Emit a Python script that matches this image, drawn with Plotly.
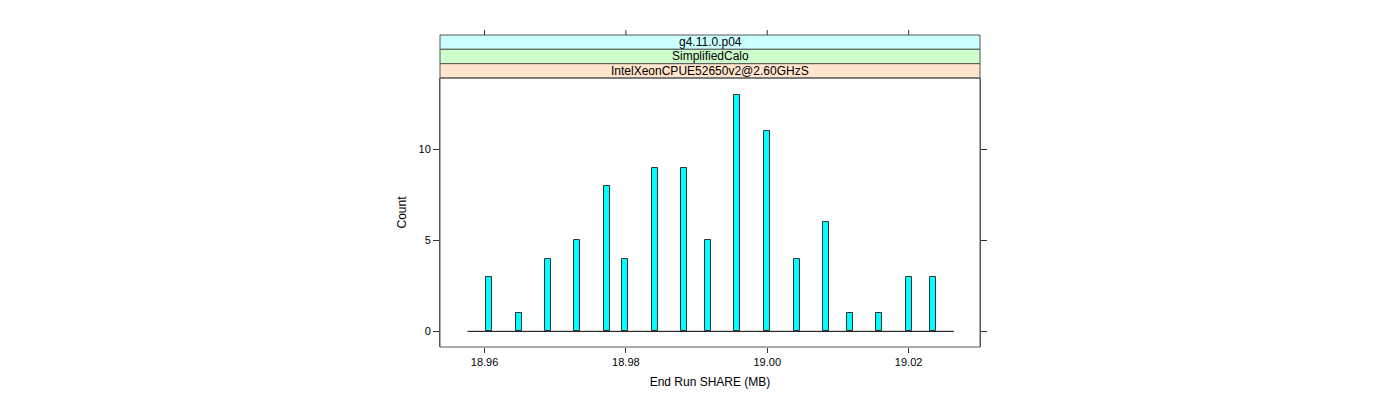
import plotly.graph_objects as go

# ---- data ----
share_mb = [18.96057, 18.96481, 18.96892, 18.97312, 18.97732, 18.97982, 18.98406,
            18.98827, 18.99156, 18.99573, 18.99991, 19.00416, 19.00836, 19.01166,
            19.01587, 19.02001, 19.02341]
counts = [3, 1, 4, 5, 8, 4, 9, 9, 5, 13, 11, 4, 6, 1, 1, 3, 3]
bin_width = 0.00085
baseline_x = [18.9576, 19.0264]
baseline_y = [0, 0]
x_ticks = [18.96, 18.98, 19.00, 19.02]
x_ticklabels = ["18.96", "18.98", "19.00", "19.02"]
y_ticks = [0, 5, 10]
y_ticklabels = ["0", "5", "10"]
strip_labels = ["g4.11.0.p04", "SimplifiedCalo", "IntelXeonCPUE52650v2@2.60GHzS"]
strip_colors = ["#CCFFFF", "#CCFFCC", "#FFE5CC"]
x_range = [18.9537, 19.0301]
y_range = [-0.86, 13.92]

FONT = "Liberation Sans, Arial, Helvetica, sans-serif"
AXC = "#555555"
TICKC = "#333333"

fig = go.Figure()
fig.add_trace(go.Bar(x=share_mb, y=counts, width=bin_width,
                     marker=dict(color="#00FFFF", line=dict(color="#333333", width=1)),
                     showlegend=False, hoverinfo="x+y"))
fig.add_trace(go.Scatter(x=baseline_x, y=baseline_y, mode="lines",
                         line=dict(color="black", width=1), showlegend=False,
                         hoverinfo="skip"))

top_px, bot_px = 35, 347
H = 400
panel_top_px = 78
def py(p):
    return (bot_px - p) / (bot_px - top_px)

ydom_top = py(panel_top_px)
strip_edges = [py(35), py(49.3), py(63.7), py(78)]

shapes = []
for i, (lab, col) in enumerate(zip(strip_labels, strip_colors)):
    y1, y0 = strip_edges[i], strip_edges[i + 1]
    shapes.append(dict(type="rect", xref="paper", yref="paper", x0=0, x1=1,
                       y0=y0, y1=y1, fillcolor=col, line=dict(color=AXC, width=1),
                       layer="below"))
shapes.append(dict(type="rect", xref="paper", yref="paper", x0=0, x1=1,
                   y0=0, y1=ydom_top, line=dict(color=AXC, width=1)))
# top axis ticks (above the strips), mapped through the x-axis range
for tv in x_ticks:
    xp = (tv - x_range[0]) / (x_range[1] - x_range[0])
    shapes.append(dict(type="line", xref="paper", yref="paper", x0=xp, x1=xp,
                       y0=1.0, y1=1.0 + 5.0 / (bot_px - top_px),
                       line=dict(color=TICKC, width=1)))

annotations = []
for i, lab in enumerate(strip_labels):
    yc = (strip_edges[i] + strip_edges[i + 1]) / 2
    annotations.append(dict(text=lab, xref="paper", yref="paper", x=0.5, y=yc,
                            showarrow=False, font=dict(family=FONT, size=12, color="black"),
                            xanchor="center", yanchor="middle"))

fig.update_layout(
    width=1400, height=H, autosize=False,
    margin=dict(l=440, r=420, t=top_px, b=H - bot_px, pad=0),
    paper_bgcolor="white", plot_bgcolor="white",
    font=dict(family=FONT, size=12, color="black"),
    bargap=0,
    xaxis=dict(range=x_range, tickvals=x_ticks, ticktext=x_ticklabels,
               ticks="outside", ticklen=5, tickwidth=1, tickcolor=TICKC, showgrid=False,
               zeroline=False, showline=False, anchor="y",
               title=dict(text="End Run SHARE (MB)", standoff=10,
                          font=dict(family=FONT, size=12, color="black")),
               tickfont=dict(family=FONT, size=11, color="black")),
    yaxis=dict(range=y_range, domain=[0, ydom_top], tickvals=y_ticks,
               ticktext=y_ticklabels, ticks="outside", ticklen=6, tickwidth=1,
               tickcolor=TICKC,
               showgrid=False, zeroline=False, showline=True, linecolor=AXC,
               mirror="ticks", tickfont=dict(family=FONT, size=11, color="black"),
               title=dict(text="Count", standoff=9,
                          font=dict(family=FONT, size=12, color="black"))),
    shapes=shapes, annotations=annotations,
)

fig.write_html("out.html", config={"displayModeBar": False},
               post_script="document.body.style.margin='0px';document.body.style.padding='0px';document.body.style.overflow='hidden';")
